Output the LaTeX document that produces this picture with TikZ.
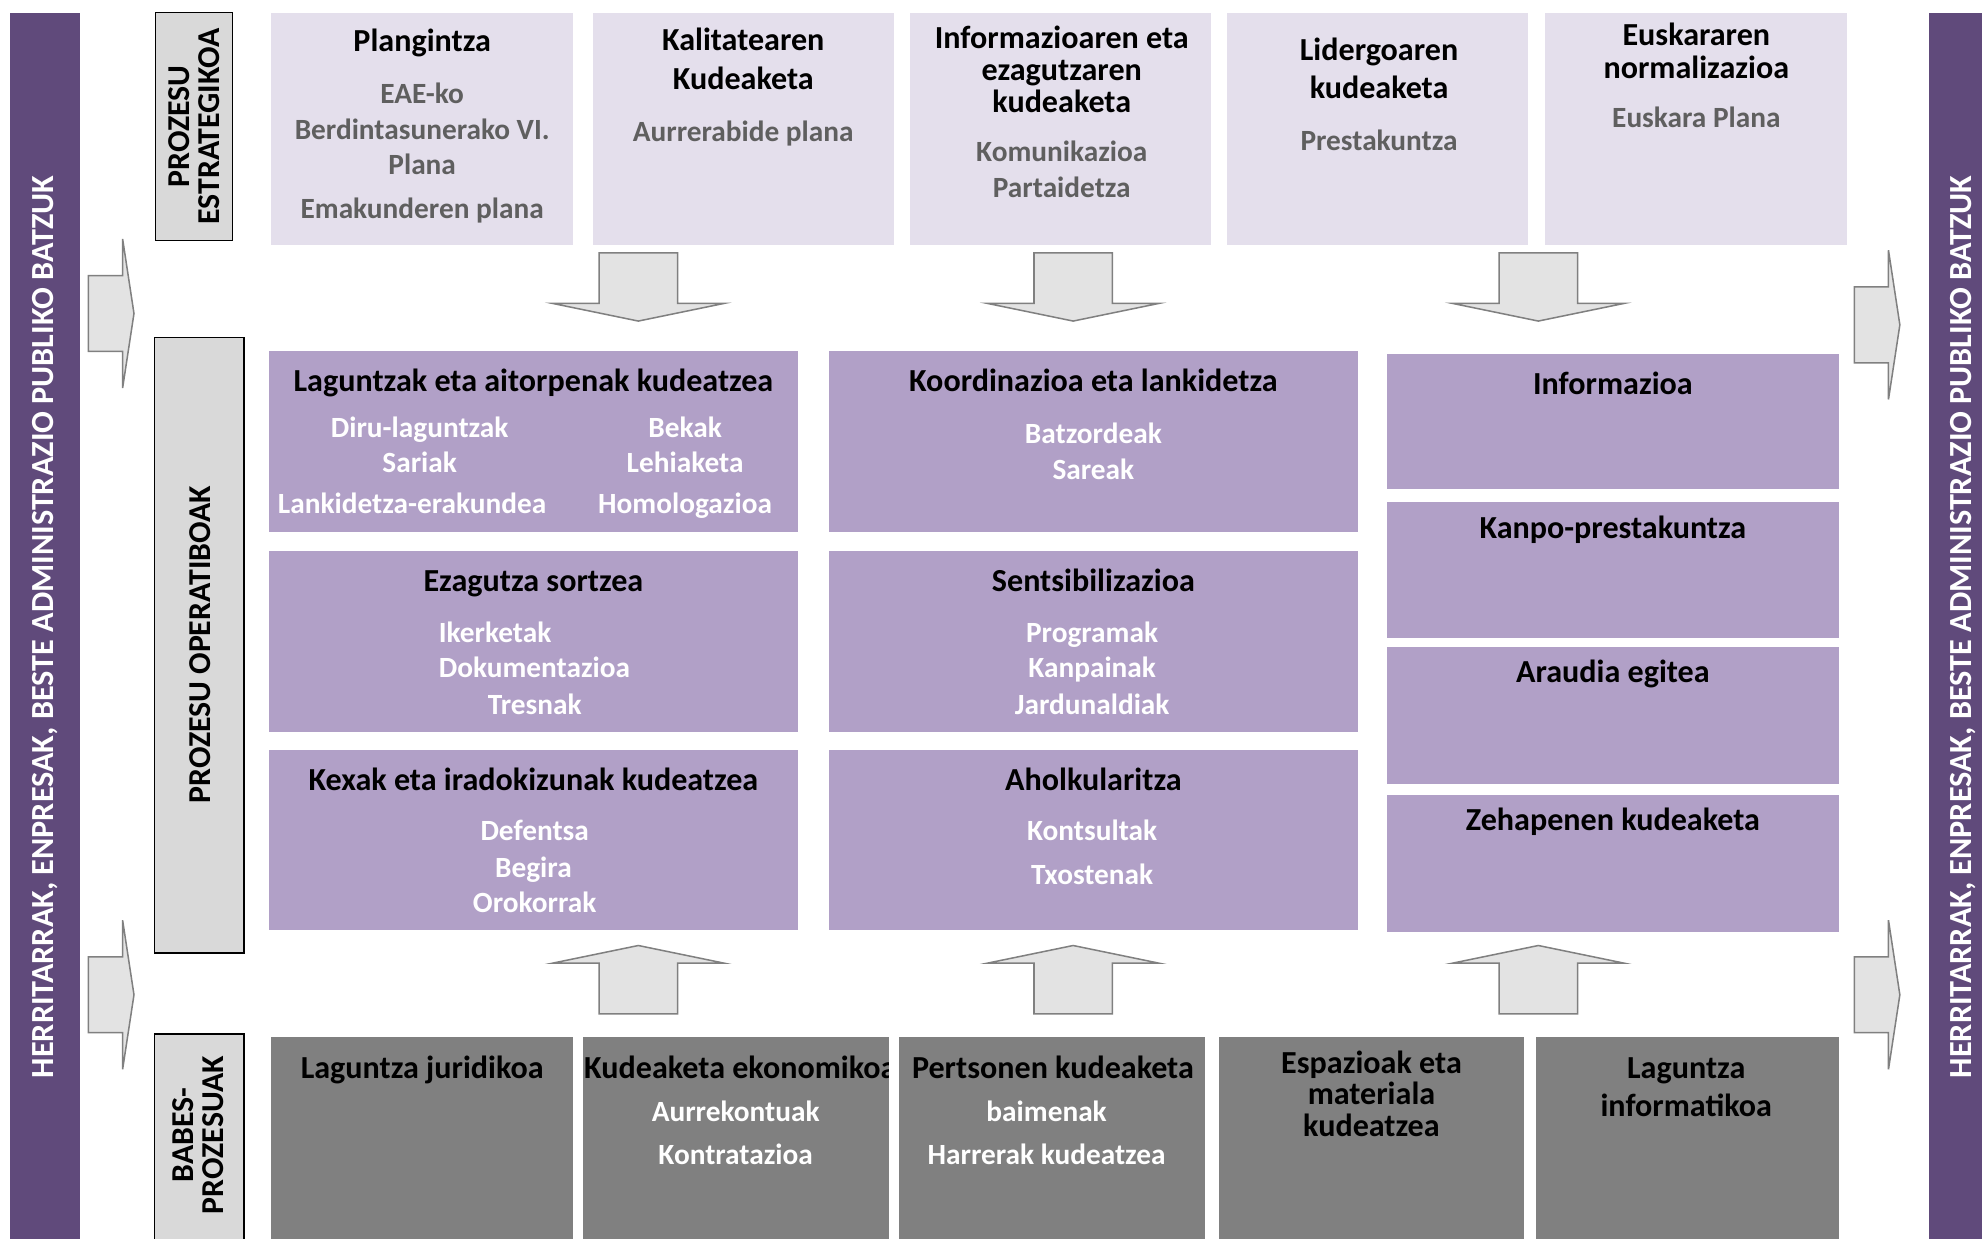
\documentclass[tikz,border=0pt]{standalone}
\usepackage{fontspec}
\setmainfont{Carlito}

\definecolor{stratfill}{HTML}{E4DFEC}
\definecolor{operfill}{HTML}{B1A0C7}
\definecolor{babesfill}{HTML}{808080}
\definecolor{sidefill}{HTML}{604A7B}
\definecolor{labelfill}{HTML}{D9D9D9}
\definecolor{arrowfill}{HTML}{E3E3E3}
\definecolor{arrowline}{HTML}{808080}
\definecolor{itemgray}{HTML}{5F5F5F}

\begin{document}
\begin{tikzpicture}[x=1pt, y=-1pt,
    box/.style={anchor=north west, inner sep=0, outer sep=0},
    strat/.style={box, fill=stratfill, minimum height=184pt},
    oper/.style={box, fill=operfill},
    babes/.style={box, fill=babesfill, minimum height=160pt},
    label/.style={box, fill=labelfill, draw=black, line width=1pt},
    ttl/.style={anchor=base, yshift=-8pt, inner sep=0, text=black,
      font=\fontsize{25.4}{30}\selectfont\bfseries},
    gsub/.style={anchor=base, yshift=-7pt, inner sep=0, text=itemgray,
      font=\fontsize{23.2}{28}\selectfont\bfseries},
    wsub/.style={gsub, text=white},
    blockarrow/.style={fill=arrowfill, draw=arrowline, line width=1.2pt},
    sidetext/.style={rotate=90, text=white, inner sep=0,
      font=\fontsize{25.5}{28}\selectfont\bfseries},
    labeltext/.style={rotate=90, align=center, inner sep=0,
      font=\fontsize{25.2}{24}\selectfont\bfseries}]
  \useasboundingbox (0,0) rectangle (1568,980);

  % side bars
  \fill[sidefill] (8,10) rectangle (63,980);
  \fill[sidefill] (1526,10) rectangle (1568,980);
  \node[sidetext] (leftside) at (36,496) {HERRITARRAK, ENPRESAK, BESTE ADMINISTRAZIO PUBLIKO BATZUK};
  \node[sidetext] (rightside) at (1553,496) {HERRITARRAK, ENPRESAK, BESTE ADMINISTRAZIO PUBLIKO BATZUK};

  % row labels
  \node[label, minimum width=61pt, minimum height=180pt] (lstrat) at (123,10) {};
  \node[label, minimum width=71pt, minimum height=487pt] (loper) at (122,267) {};
  \node[label, minimum width=71pt, minimum height=170pt] (lbabes) at (122,818) {};
  \node[labeltext] (lstrat-t) at (lstrat.center) {PROZESU\\ESTRATEGIKOA};
  \node[labeltext] (loper-t) at (158,510) {PROZESU OPERATIBOAK};
  \node[labeltext] (lbabes-t) at (157,898) {BABES-\\PROZESUAK};

  % top row
  \foreach \n/\x/\w in {plan/214/239, kal/469/238, info/720/238, lid/971/238, eusk/1222/239}
    \node[strat, minimum width=\w pt] (\n) at (\x,10) {};

  % middle row
  \foreach \n/\y in {lag/278, eza/436, kex/593}
    \node[oper, minimum width=418pt, minimum height=143pt] (\n) at (213,\y) {};
  \foreach \n/\y in {koo/278, sen/436, aho/593}
    \node[oper, minimum width=418pt, minimum height=143pt] (\n) at (656,\y) {};
  \foreach \n/\y/\h in {infor/280/107, kanpo/397/108, arau/512/108, zeha/629/108}
    \node[oper, minimum width=358pt, minimum height=\h pt] (\n) at (1097,\y) {};

  % bottom row
  \foreach \n/\x/\w in {jur/214/239, eko/461/242, pers/711/242, esp/964/242, infk/1215/240}
    \node[babes, minimum width=\w pt] (\n) at (\x,820) {};

  % titles
  \foreach \x/\y/\t [count=\i] in {334/33/Plangintza, 588/32/Kalitatearen, 588/63/Kudeaketa,
      840/30/Informazioaren eta, 840/56/ezagutzaren, 840/81/kudeaketa,
      1091/40/Lidergoaren, 1091/70/kudeaketa, 1342/28/Euskararen, 1342/54/normalizazioa,
      422/302/Laguntzak eta aitorpenak kudeatzea, 422/460/Ezagutza sortzea,
      422/617/Kexak eta iradokizunak kudeatzea, 865/302/Koordinazioa eta lankidetza,
      865/460/Sentsibilizazioa, 865/617/Aholkularitza,
      1276/304/Informazioa, 1276/418/Kanpo-prestakuntza, 1276/532/Araudia egitea,
      1276/649/Zehapenen kudeaketa,
      334/845/Laguntza juridikoa, 833/845/Pertsonen kudeaketa,
      1085/841/Espazioak eta, 1085/866/materiala, 1085/891/kudeatzea,
      1334/845/Laguntza, 1334/875/informatikoa}
    \node[ttl] (ttl\i) at (\x,\y) {\t};
  \begin{scope}
    \clip (eko.north west) rectangle (eko.south east);
    \node[ttl, anchor=base west] (ekottl) at (462,845) {Kudeaketa ekonomikoa};
  \end{scope}

  % items, top row
  \foreach \x/\y/\t [count=\i] in {334/75/EAE-ko, 334/103/Berdintasunerako VI., 334/131/Plana,
      334/166/Emakunderen plana, 588/105/Aurrerabide plana, 840/121/Komunikazioa,
      840/149/Partaidetza, 1091/112/Prestakuntza, 1342/94/Euskara Plana}
    \node[gsub] (gs\i) at (\x,\y) {\t};

  % items, middle and bottom rows
  \foreach \x/\y/\t [count=\i] in {332/339/Diru-laguntzak, 332/367/Sariak,
      326/399/Lankidetza-erakundea, 542/339/Bekak, 542/367/Lehiaketa, 542/399/Homologazioa,
      423/558/Tresnak, 423/658/Defentsa, 422/687/Begira, 423/715/Orokorrak,
      865/344/Batzordeak, 865/372/Sareak, 864/501/Programak, 864/529/Kanpainak,
      864/558/Jardunaldiak, 864/658/Kontsultak, 864/693/Txostenak,
      582/880/Aurrekontuak, 582/914/Kontratazioa, 828/880/baimenak,
      828/914/Harrerak kudeatzea}
    \node[wsub] (ws\i) at (\x,\y) {\t};
  \node[wsub, anchor=base west] (iker) at (347,501) {Ikerketak};
  \node[wsub, anchor=base west] (doku) at (347,529) {Dokumentazioa};

  % down arrows
  \foreach \c in {505,849,1217}
    \draw[blockarrow] ({\c-31},200) -- ({\c+31},200) -- ({\c+31},240) -- ({\c+68},240)
      -- (\c,254) -- ({\c-68},240) -- ({\c-31},240) -- cycle;
  % up arrows
  \foreach \c in {505,849,1217}
    \draw[blockarrow] ({\c-31},802) -- ({\c+31},802) -- ({\c+31},762) -- ({\c+68},762)
      -- (\c,748) -- ({\c-68},762) -- ({\c-31},762) -- cycle;
  % side arrows
  \foreach \x/\m in {70/248, 70/787, 1467/257, 1467/787}
    \draw[blockarrow] (\x,{\m-30}) -- ({\x+27},{\m-30}) -- ({\x+27},{\m-59}) -- ({\x+36},\m)
      -- ({\x+27},{\m+59}) -- ({\x+27},{\m+30}) -- (\x,{\m+30}) -- cycle;
\end{tikzpicture}
\end{document}
